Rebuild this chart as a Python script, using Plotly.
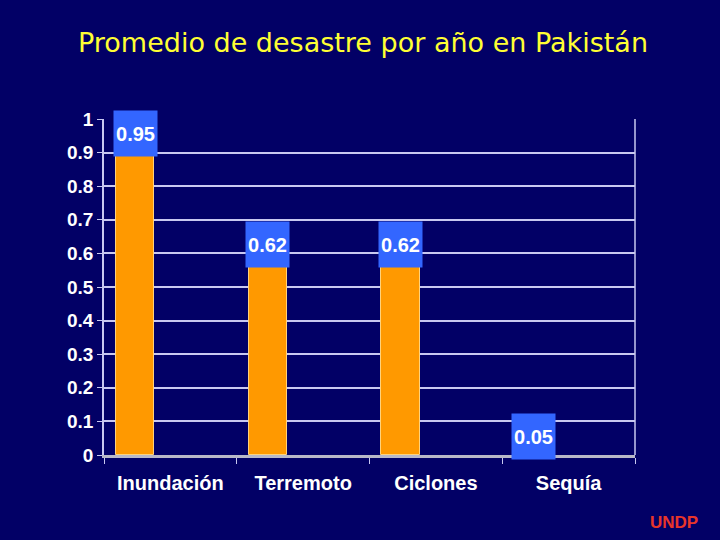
import plotly.graph_objects as go

categories = ["Inundación", "Terremoto", "Ciclones", "Sequía"]
values = [0.95, 0.62, 0.62, 0.05]
value_labels = ["0.95", "0.62", "0.62", "0.05"]
y_ticks = [0, 0.1, 0.2, 0.3, 0.4, 0.5, 0.6, 0.7, 0.8, 0.9, 1]
y_ticktext = ["0", "0.1", "0.2", "0.3", "0.4", "0.5", "0.6", "0.7", "0.8", "0.9", "1"]

W, H = 720, 540
ML, MR, MT, MB = 104, 85, 119, 85
BG = "#020066"
SANS = "Liberation Sans, Arial, sans-serif"

bar_offset = -0.41
bar_width = 0.29
slot_px = (W - ML - MR) / len(categories)
label_shift = (bar_offset + bar_width / 2) * slot_px

fig = go.Figure()
fig.add_trace(go.Bar(
    x=categories, y=values,
    offset=bar_offset, width=bar_width,
    marker=dict(color="#ff9900", line=dict(color="#ffd27a", width=1)),
    hoverinfo="skip",
))

for c, v, t in zip(categories, values, value_labels):
    fig.add_annotation(
        x=c, y=v, xref="x", yref="y", text=f"<b>{t}</b>", showarrow=False,
        xshift=label_shift, yshift=2, width=41, height=43, borderpad=1,
        bgcolor="#3366ff", font=dict(family=SANS, size=20, color="white"),
        align="center", valign="middle",
    )

fig.add_annotation(
    x=0.5, y=1, xref="paper", yref="paper", yanchor="middle", yshift=119 - 42, xshift=-7,
    text="Promedio de desastre por año en Pakistán",
    showarrow=False, font=dict(family="DejaVu Sans, sans-serif", size=27, color="#ffff33"),
)

fig.add_annotation(
    x=1, y=0, xref="paper", yref="paper", text="<b>UNDP</b>", showarrow=False,
    xanchor="right", yanchor="middle", xshift=85 - 20, yshift=-(522 - 455),
    font=dict(family=SANS, size=17, color="#e8352a"),
)

fig.update_layout(
    width=W, height=H,
    margin=dict(l=ML, r=MR, t=MT, b=MB),
    paper_bgcolor=BG, plot_bgcolor=BG,
    showlegend=False,
    bargap=0,
    xaxis=dict(
        type="category", tickson="boundaries", ticks="outside", ticklen=6,
        tickcolor="#c8c8f0", tickwidth=1,
        showline=True, linecolor="#b8b8c8", linewidth=3,
        showgrid=False,
        tickvals=categories, ticktext=[f"<b>{c}</b>" for c in categories],
        tickfont=dict(family=SANS, size=20, color="white"),
        ticklabelstandoff=8,
        range=[-0.5, 3.5],
    ),
    yaxis=dict(
        range=[0, 1], tickvals=y_ticks, ticktext=[f"<b>{t}</b>" for t in y_ticktext],
        ticks="outside", ticklen=5, tickcolor="#c8c8f0",
        showgrid=True, gridcolor="#c8c8f0", gridwidth=1.5,
        showline=True, linecolor="#c8c8f0", linewidth=1.5,
        tickfont=dict(family=SANS, size=19, color="white"),
        zeroline=False,
    ),
)
fig.add_shape(type="line", xref="paper", yref="paper", x0=1, x1=1, y0=0, y1=1,
              line=dict(color="#c8c8f0", width=1.5))

fig.write_html("out.html")
